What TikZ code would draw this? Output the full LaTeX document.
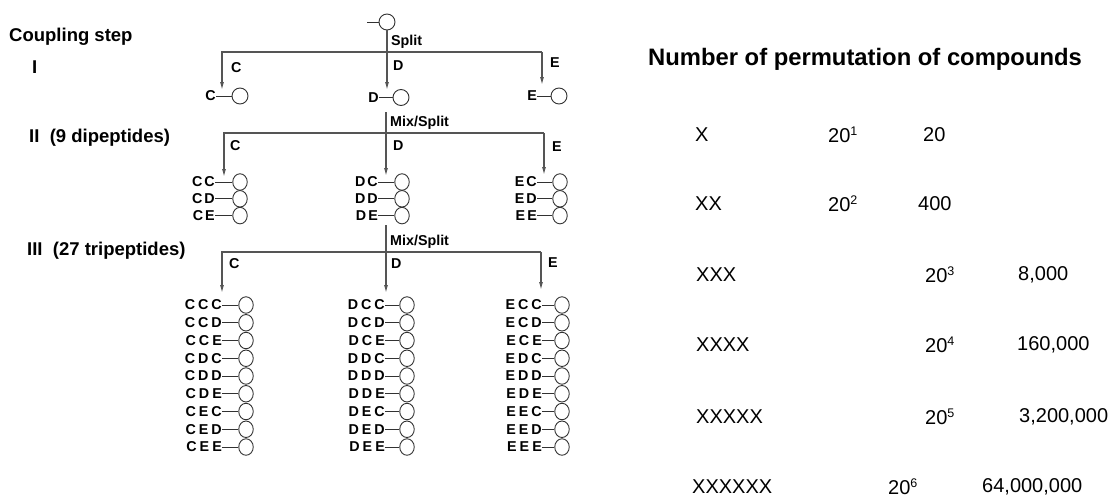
\documentclass[tikz,border=0pt]{standalone}
\usepackage{fontspec}
\setmainfont{Liberation Sans}
\usetikzlibrary{arrows.meta,shapes.geometric}
\definecolor{linegray}{RGB}{85,85,85}
\definecolor{beadgray}{RGB}{50,50,50}
\newcommand\mysup[1]{\raisebox{0.36em}{\fontsize{12.5}{12.5}\selectfont #1}}
\begin{document}
\begin{tikzpicture}[x=1pt,y=-1pt,
  lbl/.style={inner sep=0pt,font=\bfseries\fontsize{14.3}{14.3}\selectfont},
  side/.style={inner sep=0pt,anchor=west,font=\bfseries\fontsize{18.5}{18.5}\selectfont},
  cell/.style={inner sep=0pt,anchor=west,font=\fontsize{20}{20}\selectfont},
  bead/.style={circle,draw=beadgray,line width=0.9pt,minimum size=16pt,inner sep=0pt},
  sbead/.style={ellipse,draw=beadgray,line width=0.9pt,minimum width=14.5pt,minimum height=16.5pt,inner sep=0pt},
  conn/.style={draw=linegray,line width=1.1pt},
  tie/.style={draw=beadgray,line width=0.9pt},
  arr/.style={conn,-{Latex[length=8pt,width=4pt]}}]
\useasboundingbox (0,0) rectangle (1117,498);

% ---------- left labels ----------
\node[side] (cs) at (9,37) {Coupling step};
\node[side] (s1) at (32,67) {I};
\node[side] (s2) at (29,138) {II\ \ (9 dipeptides)};
\node[side] (s3) at (27,251) {III\ \ (27 tripeptides)};

% ---------- step I ----------
\node[bead] (top) at (387,22) {};
\coordinate (stub) at (367,22);
\draw[tie] (stub) -- (top);
\coordinate (h1L) at (222,52);
\coordinate (h1R) at (542,52);
\coordinate (t1C) at (222,90);
\coordinate (t1D) at (386,90);
\coordinate (t1E) at (542,85);
\draw[arr] (top.south) -- (top.south |- t1D);
\draw[arr] (h1R) -- (h1L) -- (t1C);
\draw[arr] (h1R) -- (t1E);
\node[lbl,anchor=west] (split1) at (391,42) {Split};
\node[lbl,anchor=west] (l1C) at (231,68) {C};
\node[lbl,anchor=west] (l1D) at (393,66) {D};
\node[lbl,anchor=west] (l1E) at (550,63) {E};

\node[lbl,anchor=east] (n1C) at (216,96) {C};
\node[bead] (b1C) at (240,96) {};
\draw[tie] (n1C) -- (b1C);
\node[lbl,anchor=east] (n1D) at (379,97.5) {D};
\node[bead] (b1D) at (401,97.5) {};
\draw[tie] (n1D) -- (b1D);
\node[lbl,anchor=east] (n1E) at (537,96) {E};
\node[bead] (b1E) at (559,96) {};
\draw[tie] (n1E) -- (b1E);

% ---------- step II ----------
\coordinate (m2) at (386,112);
\coordinate (h2L) at (224,133);
\coordinate (h2R) at (544,133);
\coordinate (t2C) at (224,177);
\coordinate (t2D) at (386,176);
\coordinate (t2E) at (544,175);
\draw[arr] (m2) -- (t2D);
\draw[arr] (h2R) -- (h2L) -- (t2C);
\draw[arr] (h2R) -- (t2E);
\node[lbl,anchor=west] (mix2) at (390,123) {Mix/Split};
\node[lbl,anchor=west] (l2C) at (230,146) {C};
\node[lbl,anchor=west] (l2D) at (393,146) {D};
\node[lbl,anchor=west] (l2E) at (552,147) {E};

\foreach \col/\tx/\bx in {C/215/240, D/378/402, E/537/560} {
  \foreach \b [count=\j] in {C,D,E} {
    \pgfmathsetmacro\yy{182+16.8*(\j-1)}
    \node[lbl,anchor=east] (t2\col\b) at (\tx,\yy) {\col\kern2pt\b};
    \node[sbead] (b2\col\b) at (\bx,\yy) {};
    \draw[tie] (t2\col\b) -- (b2\col\b);
  }
}

% ---------- step III ----------
\coordinate (m3) at (386,225);
\coordinate (h3L) at (222,252);
\coordinate (h3R) at (541,252);
\coordinate (t3C) at (222,293);
\coordinate (t3D) at (386,293);
\coordinate (t3E) at (541,290);
\draw[arr] (m3) -- (t3D);
\draw[arr] (h3R) -- (h3L) -- (t3C);
\draw[arr] (h3R) -- (t3E);
\node[lbl,anchor=west] (mix3) at (390,242) {Mix/Split};
\node[lbl,anchor=west] (l3C) at (229,264) {C};
\node[lbl,anchor=west] (l3D) at (391,264) {D};
\node[lbl,anchor=west] (l3E) at (548,263) {E};

\foreach \col/\tx/\bx in {C/222/246, D/385/407, E/542/562} {
  \foreach \a [count=\i] in {C,D,E} {
    \foreach \b [count=\j] in {C,D,E} {
      \pgfmathsetmacro\yy{305+17.75*(3*(\i-1)+\j-1)}
      \node[lbl,anchor=east] (t3\col\a\b) at (\tx,\yy) {\col\kern3pt\a\kern3pt\b};
      \node[sbead] (b3\col\a\b) at (\bx,\yy) {};
      \draw[tie] (t3\col\a\b) -- (b3\col\a\b);
    }
  }
}

% ---------- right table ----------
\node[inner sep=0pt,anchor=west,font=\bfseries\fontsize{23.8}{23.8}\selectfont] (title) at (648,59) {Number of permutation of compounds};

\node[cell] (x1) at (695,135) {X};
\node[cell] (p1) at (828,135) {20\mysup{1}};
\node[cell] (v1) at (923,135) {20};
\node[cell] (x2) at (695,204) {XX};
\node[cell] (p2) at (828,204) {20\mysup{2}};
\node[cell] (v2) at (918,204) {400};
\node[cell] (x3) at (696,275) {XXX};
\node[cell] (p3) at (925,275) {20\mysup{3}};
\node[cell] (v3) at (1018,275) {8,000};
\node[cell] (x4) at (696,345) {XXXX};
\node[cell] (p4) at (925,345) {20\mysup{4}};
\node[cell] (v4) at (1017,345) {160,000};
\node[cell] (x5) at (696,417) {XXXXX};
\node[cell] (p5) at (925,417) {20\mysup{5}};
\node[cell] (v5) at (1019,417) {3,200,000};
\node[cell] (x6) at (692,487) {XXXXXX};
\node[cell] (p6) at (888,487) {20\mysup{6}};
\node[cell] (v6) at (982,487) {64,000,000};
\end{tikzpicture}
\end{document}
